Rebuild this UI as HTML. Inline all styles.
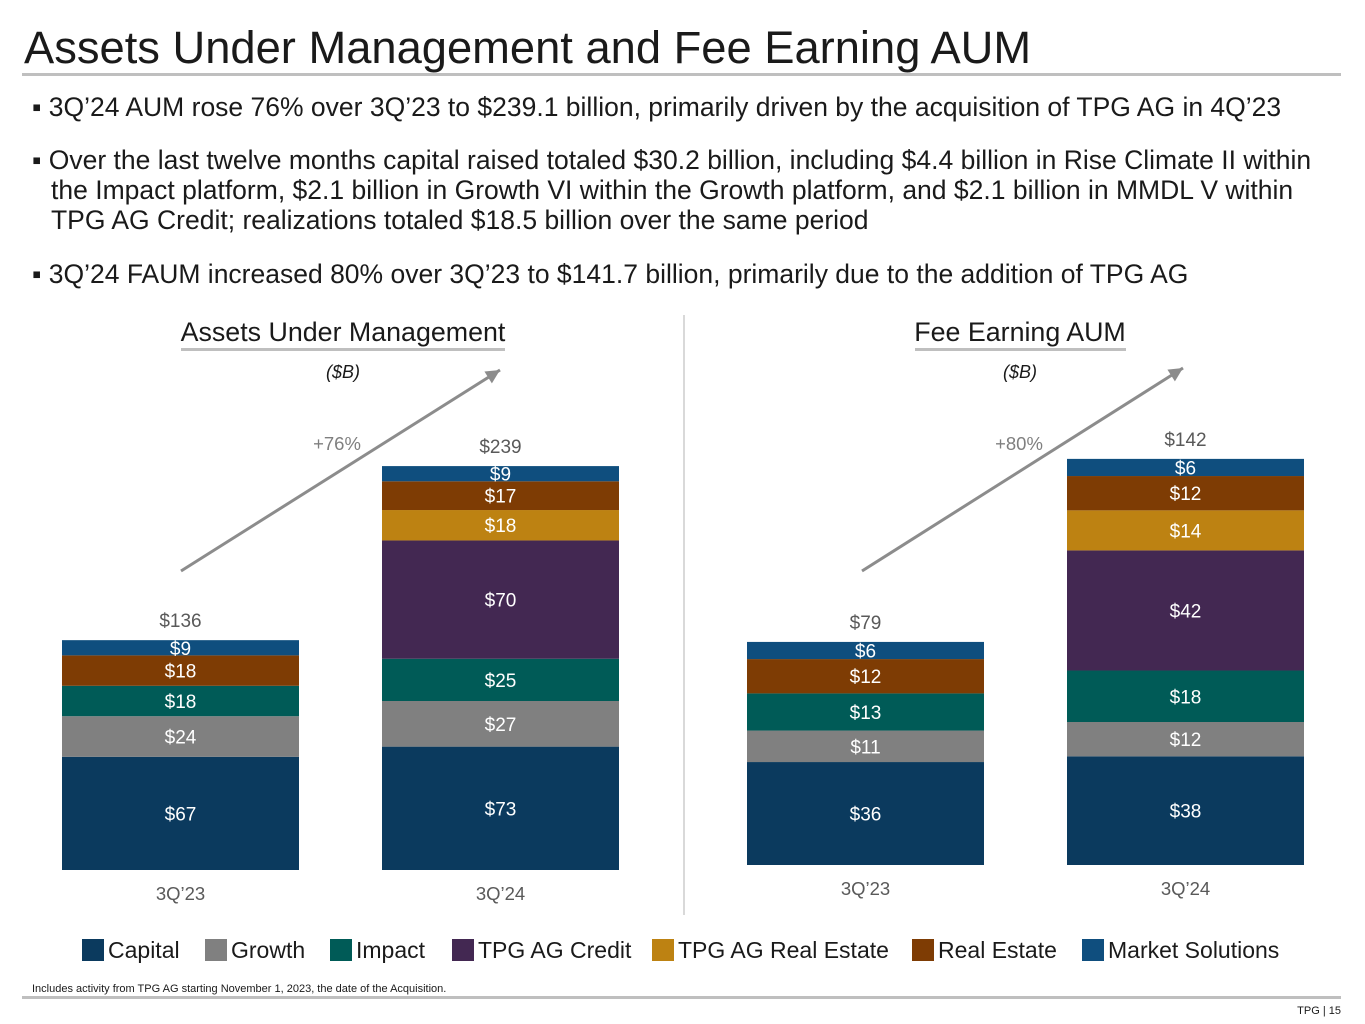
<!DOCTYPE html>
<html><head><meta charset="utf-8"><style>
body{margin:0;background:#fff;}
svg{display:block;font-family:"Liberation Sans",Arial,sans-serif;}
</style></head><body>
<svg width="1365" height="1024" viewBox="0 0 1365 1024">
<text x="24" y="63" font-size="45.3" fill="#1a1a1a">Assets Under Management and Fee Earning AUM</text>
<rect x="22" y="73" width="1319" height="3" fill="#bfbfbf"/>
<g font-size="26.5" fill="#1a1a1a">
<text x="32" y="116">▪ 3Q’24 AUM rose 76% over 3Q’23 to $239.1 billion, primarily driven by the acquisition of TPG AG in 4Q’23</text>
<text x="32" y="169">▪ Over the last twelve months capital raised totaled $30.2 billion, including $4.4 billion in Rise Climate II within</text>
<text x="51" y="199">the Impact platform, $2.1 billion in Growth VI within the Growth platform, and $2.1 billion in MMDL V within</text>
<text x="51" y="229">TPG AG Credit; realizations totaled $18.5 billion over the same period</text>
<text x="32" y="283">▪ 3Q’24 FAUM increased 80% over 3Q’23 to $141.7 billion, primarily due to the addition of TPG AG</text>
</g>
<line x1="684" y1="315" x2="684" y2="915" stroke="#d9d9d9" stroke-width="2"/>
<g id="charts"></g>
<g fill="#1a1a1a" id="legend"></g>
<text x="32" y="992" font-size="11" fill="#1a1a1a">Includes activity from TPG AG starting November 1, 2023, the date of the Acquisition.</text>
<rect x="22" y="996" width="1319" height="3" fill="#bfbfbf"/>
<text x="1341" y="1014" font-size="11" fill="#1a1a1a" text-anchor="end">TPG | 15</text>
</svg>
<script>
const series = ["Capital","Growth","Impact","TPG AG Credit","TPG AG Real Estate","Real Estate","Market Solutions"];
const colors = ["#0b3a5e","#808080","#005b57","#432852","#bd8212","#7e3c04","#0f4e7e"];
const periods = ["3Q’23","3Q’24"];
const aumValues = [[67,24,18,0,0,18,9],[73,27,25,70,18,17,9]];
const aumTotals = ["$136","$239"];
const faumValues = [[36,11,13,0,0,12,6],[38,12,18,42,14,12,6]];
const faumTotals = ["$79","$142"];
const NS="http://www.w3.org/2000/svg";
const root=document.getElementById('charts');
function mk(tag,attrs,parent){const e=document.createElementNS(NS,tag);for(const k in attrs)e.setAttribute(k,attrs[k]);(parent||root).appendChild(e);return e;}
function chart(cfg){
  const g=mk('g',{});
  
  
  const y=v=>cfg.base-v*cfg.scale;
  const t=mk('text',{x:cfg.cx,y:341,'font-size':26.8,fill:'#1a1a1a','text-anchor':'middle'},g);t.textContent=cfg.title;
  
  
  const u=mk('rect',{x:cfg.ul[0],y:348,width:cfg.ul[1]-cfg.ul[0],height:3,fill:'#bfbfbf'},g);
  
  
  const unit=mk('text',{x:cfg.cx,y:378,'font-size':18,'font-style':'italic',fill:'#1a1a1a','text-anchor':'middle'},g);unit.textContent='($B)';
  
  
  const a=cfg.arrow;
  const ln=mk('line',{x1:a[0],y1:a[1],x2:a[2],y2:a[3],stroke:'#8c8c8c','stroke-width':3},g);
  
  
  const ang=Math.atan2(a[3]-a[1],a[2]-a[0]);const L=14,W=7;
  const bx=a[2]-L*Math.cos(ang),by=a[3]-L*Math.sin(ang);
  const ah=mk('polygon',{points:`${a[2]},${a[3]} ${bx+W*Math.sin(ang)},${by-W*Math.cos(ang)} ${bx-W*Math.sin(ang)},${by+W*Math.cos(ang)}`,fill:'#8c8c8c'},g);
  
  
  const pct=mk('text',{x:cfg.pctPos[0],y:cfg.pctPos[1],'font-size':18.5,fill:'#7f7f7f','text-anchor':'middle'},g);pct.textContent=cfg.pct;
  
  
  cfg.values.forEach((vals,i)=>{
    const x=cfg.xs[i];let cum=0;
    vals.forEach((v,s)=>{
      if(v<=0)return;
      const y0=y(cum),y1=y(cum+v);
      const r=mk('rect',{x:x,y:y1,width:cfg.bw,height:y0-y1,fill:colors[s]},g);
      
      
      const lt=mk('text',{x:x+cfg.bw/2,y:(y0+y1)/2+7,'font-size':19,fill:'#fff','text-anchor':'middle'},g);lt.textContent='$'+v;
      
      
      cum+=v;
    });
    const tt=mk('text',{x:x+cfg.bw/2,y:y(cum)-13,'font-size':19,fill:'#595959','text-anchor':'middle'},g);tt.textContent=cfg.totals[i];
    
    
    const cl=mk('text',{x:x+cfg.bw/2,y:cfg.base+30,'font-size':18.5,fill:'#595959','text-anchor':'middle'},g);cl.textContent=periods[i];
    
    
  });
}
chart({name:'aum-chart',title:'Assets Under Management',cx:343,ul:[181,505],base:870,scale:1.69,xs:[62,382],bw:237,values:aumValues,totals:aumTotals,arrow:[181,571,500,370],pct:'+76%',pctPos:[337,450]});
chart({name:'faum-chart',title:'Fee Earning AUM',cx:1020,ul:[915,1126],base:865,scale:2.86,xs:[747,1067],bw:237,values:faumValues,totals:faumTotals,arrow:[862,571,1183,368],pct:'+80%',pctPos:[1019,450]});
const lg=document.getElementById('legend');
const lx=[82,205,330,452,652,912,1082];
series.forEach((s,i)=>{
  const r=mk('rect',{x:lx[i],y:939,width:22,height:22,fill:colors[i]},lg);
  
  
  const t=mk('text',{x:lx[i]+26,y:958,'font-size':23},lg);t.textContent=s;
  
  
});
</script>
</body></html>
